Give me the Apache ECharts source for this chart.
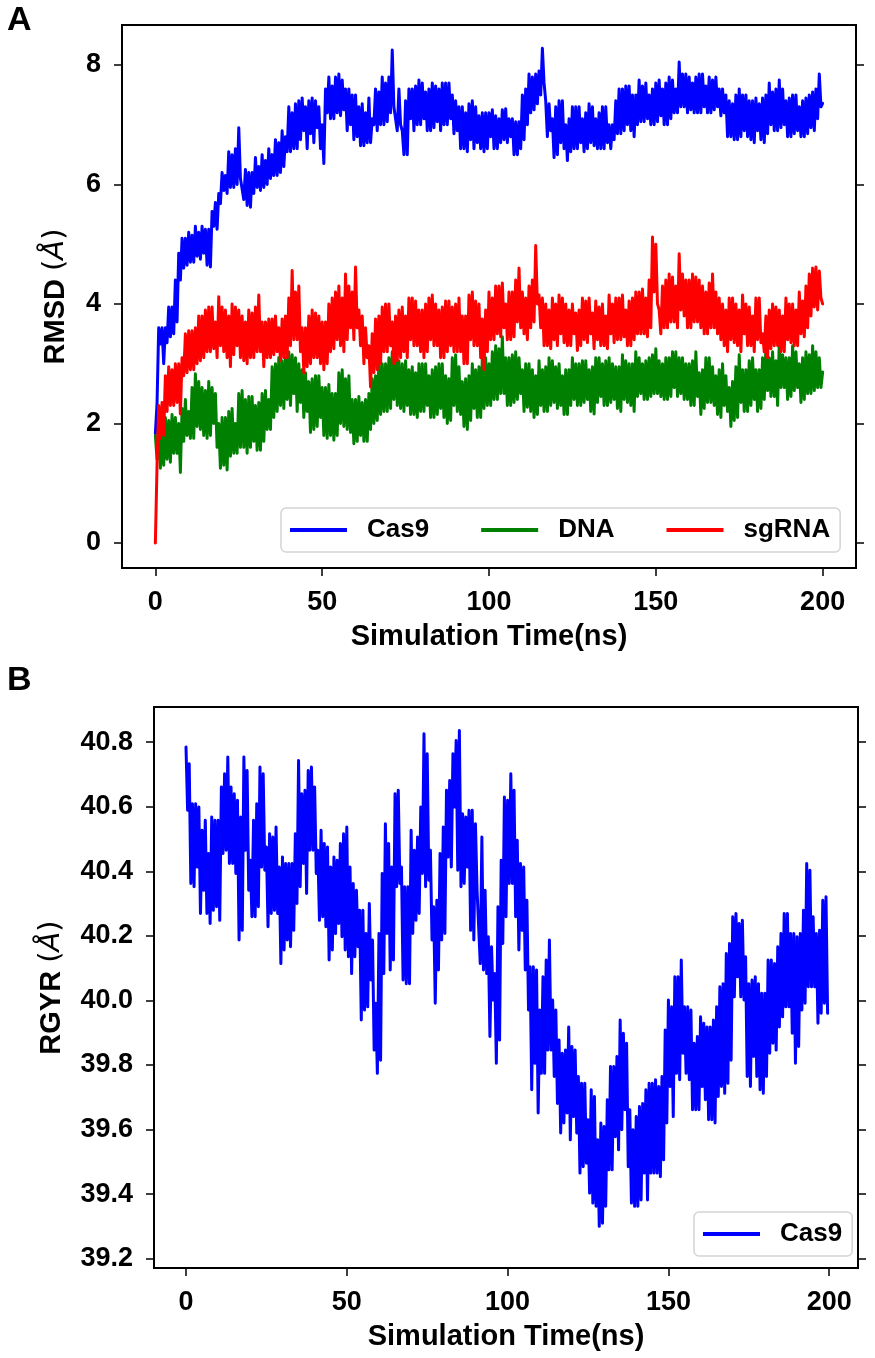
<!DOCTYPE html>
<html><head><meta charset="utf-8">
<script src="https://cdn.jsdelivr.net/npm/echarts@6/dist/echarts.min.js"></script>
<style>html,body{margin:0;padding:0;background:#fff}#c{width:875px;height:1358px}</style>
</head><body><div id="c"></div>
<script>
const rmsdTicksX = [0, 50, 100, 150, 200];
const rmsdTicksY = [0, 2, 4, 6, 8];
const rgyrTicksX = [0, 50, 100, 150, 200];
const rgyrTicksY = [39.2, 39.4, 39.6, 39.8, 40.0, 40.2, 40.4, 40.6, 40.8];
const rgyrStepNs = 0.5;

// RMSD: two readings per 1-ns bin
const cas9Rmsd = [1.83,3.33,3.0,3.6,3.45,3.95,3.7,4.4,4.6,5.1,
 4.7,5.15,4.8,5.2,4.85,5.25,4.62,5.3,5.25,5.68,
 5.9,6.15,5.95,6.5,6.0,6.95,6.1,6.25,5.62,6.2,
 5.95,6.3,5.95,6.4,6.1,6.5,6.15,6.7,6.3,6.8,
 6.55,7.2,6.6,7.4,6.9,7.3,6.85,7.45,6.95,7.3,
 6.35,7.2,7.1,7.65,7.2,7.85,7.25,7.6,7.0,7.5,
 6.8,7.3,6.65,7.2,6.7,7.1,6.9,7.55,7.0,7.7,
 7.2,8.25,7.3,7.6,6.9,6.5,7.1,7.6,7.0,7.75,
 7.1,7.55,6.9,7.7,7.05,7.6,7.0,7.7,7.1,7.5,
 6.9,7.3,6.6,7.2,6.75,7.4,6.7,7.15,6.55,7.2,
 6.8,7.25,6.6,7.1,6.75,7.27,6.8,7.1,6.5,7.05,
 6.75,7.6,7.2,7.8,7.35,7.9,8.28,7.4,6.9,6.45,
 7.3,6.7,7.4,6.4,7.1,6.6,7.3,6.7,7.1,6.6,
 7.35,6.65,7.1,6.6,7.3,6.7,7.0,6.75,7.4,6.85,
 7.6,7.0,7.65,6.8,7.5,7.05,7.65,7.1,7.5,7.0,
 7.7,7.15,7.6,7.0,7.8,7.2,7.6,8.05,7.3,7.85,
 7.25,7.7,7.2,7.85,7.3,7.65,7.2,7.75,7.3,7.6,
 7.2,7.5,6.8,7.35,6.75,7.6,6.9,7.5,6.75,7.4,
 6.9,7.35,6.7,7.5,7.0,7.55,6.9,7.75,7.0,7.4,
 6.8,7.5,6.9,7.3,6.8,7.45,6.95,7.55,7.1,7.85,
 7.36];
const cas9RmsdHalf = [2.33,3.6,3.6,3.35,3.95,3.5,4.4,4.85,5.1,4.65,
 5.2,4.7,5.3,4.75,5.3,4.65,5.25,5.55,5.7,5.85,
 6.2,5.85,6.55,5.95,6.6,6.1,5.75,5.65,6.2,5.85,
 6.45,5.9,6.5,6.0,6.6,6.15,6.75,6.2,6.9,6.55,
 7.3,6.6,7.35,6.75,7.45,6.6,7.4,6.7,7.4,6.6,
 7.0,7.6,7.8,7.1,7.8,7.15,7.75,6.9,7.6,6.75,
 7.5,6.65,7.35,6.7,7.45,7.0,7.6,7.0,7.8,7.05,
 7.8,7.3,6.9,7.0,6.5,7.4,7.6,6.9,7.65,7.0,
 7.7,6.9,7.6,6.95,7.65,6.9,7.7,7.0,7.7,6.85,
 7.4,6.6,7.3,6.55,7.35,6.6,7.3,6.6,7.2,6.6,
 7.2,6.6,7.15,6.7,7.25,6.7,7.1,6.5,7.05,6.6,
 7.5,7.0,7.85,7.25,7.85,7.5,7.7,6.8,7.35,7.1,
 6.5,7.4,6.6,7.0,6.55,7.3,6.6,7.3,6.55,7.2,
 6.7,7.3,6.6,7.2,6.6,7.3,6.6,7.0,6.85,7.6,
 6.9,7.65,6.9,7.5,7.0,7.75,7.05,7.7,7.0,7.6,
 7.05,7.75,7.0,7.7,7.1,7.75,7.2,7.3,7.85,7.2,
 7.8,7.2,7.8,7.2,7.85,7.2,7.8,7.25,7.8,7.15,
 7.6,6.8,7.4,6.75,7.5,6.8,7.5,6.8,7.4,6.7,
 7.45,6.75,7.45,6.85,7.7,6.9,7.6,6.95,7.6,6.8,
 7.45,6.85,7.5,6.8,7.4,6.85,7.5,6.9,7.6,7.3];

const dnaRmsd = [1.8,1.25,1.9,1.4,2.05,1.5,2.1,1.18,2.25,1.8,
 2.2,1.75,2.83,1.9,2.6,1.75,2.7,2.0,2.5,1.25,
 2.1,1.22,2.2,1.5,2.0,1.6,2.55,1.5,2.45,1.7,
 2.3,1.55,2.5,1.9,2.4,2.1,3.0,2.3,3.05,2.4,
 3.2,2.5,3.1,2.35,2.9,2.2,2.7,1.9,2.8,2.1,
 2.6,1.75,2.65,1.72,2.5,2.0,2.9,1.9,2.8,1.66,
 2.4,1.8,2.35,1.7,2.5,2.0,2.8,2.15,3.0,2.2,
 3.1,2.4,3.35,2.25,3.0,2.3,2.9,2.15,2.85,2.2,
 3.0,2.3,2.8,2.1,2.95,2.25,3.0,2.0,2.75,2.3,
 3.15,2.15,2.7,1.9,2.8,2.25,2.9,2.1,3.1,2.3,
 3.0,2.4,3.3,2.5,3.45,2.3,3.1,2.35,3.2,2.5,
 2.9,2.27,3.0,2.1,2.8,2.3,2.9,2.2,3.1,2.35,
 2.95,2.3,2.8,2.15,2.9,2.4,3.0,2.3,3.05,2.4,
 2.9,2.16,3.1,2.45,3.0,2.3,3.1,2.4,2.95,2.2,
 3.15,2.35,3.0,2.2,3.2,2.5,3.0,2.4,3.1,2.5,
 3.25,2.45,3.0,2.4,3.1,2.6,3.2,2.5,3.1,2.4,
 3.0,2.3,3.2,2.15,2.9,2.35,3.1,2.3,2.8,2.1,
 3.0,2.2,1.95,2.7,2.1,3.15,2.2,2.9,2.3,3.1,
 2.2,2.9,2.4,3.3,2.45,3.2,2.3,3.35,2.6,3.1,
 2.45,3.3,2.6,3.0,2.4,3.2,2.5,3.3,2.6,3.1,
 2.86];
const dnaRmsdHalf = [1.4,2.0,1.3,2.1,1.35,2.15,1.5,2.0,1.7,2.4,
 1.75,2.6,1.95,2.7,1.8,2.55,1.8,2.6,1.6,2.0,
 1.3,2.1,1.45,2.25,1.5,2.5,1.6,2.4,1.6,2.45,
 1.55,2.35,1.7,2.55,1.9,2.95,2.2,3.1,2.25,3.1,
 2.3,3.15,2.2,3.0,2.1,2.85,1.85,2.75,1.95,2.8,
 1.8,2.6,1.8,2.5,1.8,2.85,1.95,2.75,1.85,2.4,
 1.7,2.45,1.7,2.4,1.9,2.75,2.05,3.05,2.2,3.0,
 2.25,3.2,2.3,3.05,2.2,3.05,2.15,2.95,2.1,3.0,
 2.2,3.0,2.1,2.9,2.15,3.0,2.1,2.8,2.05,3.1,
 2.2,2.95,1.95,2.75,2.05,3.0,2.1,2.95,2.25,3.1,
 2.3,3.2,2.4,3.25,2.5,3.1,2.3,3.15,2.4,3.1,
 2.2,3.0,2.2,2.9,2.15,3.05,2.2,2.95,2.3,3.05,
 2.25,3.0,2.15,2.9,2.3,3.1,2.3,3.0,2.35,3.05,
 2.2,2.95,2.35,3.1,2.3,3.05,2.35,3.0,2.25,2.95,
 2.4,3.05,2.3,3.0,2.45,3.1,2.4,3.05,2.45,3.15,
 2.5,3.05,2.4,3.1,2.45,3.2,2.45,3.1,2.4,3.0,
 2.3,3.05,2.45,2.85,2.25,3.1,2.35,2.95,2.15,2.9,
 2.3,2.8,2.6,2.05,2.95,2.35,2.9,2.2,3.05,2.4,
 2.9,2.25,3.1,2.55,3.1,2.45,3.05,2.6,3.15,2.4,
 3.1,2.55,3.2,2.35,3.1,2.5,3.15,2.55,3.2,2.6];

const sgrnaRmsd = [0,1.75,2.35,2.2,2.95,2.3,3.0,2.16,3.1,2.85,
 3.55,2.9,3.6,3.05,3.8,3.2,3.95,3.25,3.7,4.12,
 3.2,3.9,2.95,4.0,3.3,3.9,3.05,3.7,3.1,3.85,
 3.2,4.15,2.95,3.7,3.1,3.75,3.2,3.6,3.1,3.8,
 3.3,4.56,3.4,4.3,2.85,3.6,3.0,3.9,3.1,3.8,
 2.9,3.7,3.2,4.1,3.4,4.3,3.2,4.5,3.6,4.2,
 4.62,3.3,3.8,3.1,2.61,3.5,2.9,3.8,3.2,4.0,
 3.3,3.7,3.05,3.9,3.2,3.8,3.4,4.1,3.3,3.9,
 3.1,4.0,3.4,4.15,3.3,3.9,3.1,4.05,3.3,3.95,
 3.2,4.1,3.0,3.8,3.4,4.2,3.3,4.0,2.9,3.9,
 3.4,4.1,3.5,4.3,3.6,4.0,3.4,4.2,3.7,4.6,
 3.5,4.1,3.6,4.4,4.98,3.6,4.1,3.3,3.9,3.4,
 4.0,3.5,4.1,3.3,3.9,3.5,3.22,3.9,3.4,4.05,
 3.5,3.85,3.4,3.95,3.3,3.8,3.5,4.0,3.4,4.1,
 3.45,3.9,3.3,4.1,3.5,4.2,3.5,4.1,3.6,5.12,
 5.0,3.9,4.3,3.6,4.5,3.7,4.3,4.84,3.8,4.4,
 3.6,4.5,3.7,4.4,3.5,4.2,3.6,4.5,3.5,4.1,
 3.3,3.9,3.4,4.1,3.3,3.9,3.5,4.0,3.3,3.8,
 3.4,4.1,3.5,3.1,3.9,3.3,3.95,3.2,3.8,3.4,
 4.0,3.3,3.9,3.5,4.05,3.6,4.5,3.95,4.62,4.1,
 4.0];
const sgrnaRmsdHalf = [1.3,2.3,1.8,2.8,2.3,2.9,2.35,3.0,2.8,3.5,
 2.9,3.55,3.0,3.8,3.1,3.9,3.2,3.95,3.1,3.3,
 3.95,3.1,3.8,3.15,3.95,3.1,3.8,3.0,3.9,3.1,
 3.95,3.2,3.7,3.1,3.75,3.15,3.8,3.05,3.75,3.1,
 4.1,3.4,4.2,3.2,3.6,2.95,3.8,3.1,3.85,3.0,
 3.7,3.0,4.0,3.25,4.2,3.3,4.1,3.4,4.3,3.4,
 3.6,3.9,3.0,3.6,3.3,2.85,3.75,3.0,3.95,3.2,
 4.0,3.0,3.8,3.1,3.95,3.1,4.1,3.3,4.05,3.2,
 3.9,3.2,4.1,3.3,4.0,3.1,3.95,3.2,4.05,3.2,
 4.0,3.2,3.8,3.0,4.15,3.3,4.05,3.1,3.75,3.2,
 4.2,3.4,4.3,3.45,4.35,3.4,4.2,3.45,4.4,3.6,
 4.2,3.4,4.3,3.7,4.0,4.15,3.3,4.0,3.25,4.1,
 3.3,4.15,3.35,4.0,3.3,4.0,3.85,3.3,4.1,3.35,
 4.1,3.25,4.05,3.3,4.0,3.25,4.15,3.35,4.1,3.4,
 4.15,3.3,4.05,3.4,4.2,3.5,4.25,3.45,4.4,4.2,
 4.0,3.5,3.6,4.4,3.7,4.45,3.6,3.9,4.5,3.6,
 4.4,3.7,4.45,3.6,4.3,3.5,4.35,3.6,4.2,3.4,
 4.0,3.2,4.1,3.35,4.0,3.2,4.15,3.3,3.95,3.2,
 4.1,3.35,3.2,3.8,3.25,4.0,3.3,3.9,3.2,4.1,
 3.35,4.0,3.3,4.2,3.45,4.3,3.8,4.6,3.9,4.55];

// RGYR samples every 0.5 ns (0..199.5)
const cas9Rgyr = [
 40.785,40.589, 40.733,40.362, 40.609,40.352, 40.609,40.413, 40.599,40.269,
 40.527,40.341, 40.558,40.269, 40.455,40.238, 40.568,40.279, 40.558,40.290,
 40.558,40.248, 40.661,40.455, 40.702,40.465, 40.754,40.424, 40.661,40.424,
 40.640,40.393, 40.620,40.187, 40.568,40.217, 40.754,40.465, 40.712,40.341,
 40.434,40.259, 40.558,40.259, 40.609,40.290, 40.723,40.413, 40.702,40.403,
 40.475,40.228, 40.516,40.269, 40.506,40.279, 40.537,40.269, 40.413,40.114,
 40.444,40.156, 40.424,40.187, 40.424,40.166, 40.424,40.217, 40.516,40.300,
 40.743,40.352, 40.640,40.424, 40.651,40.331, 40.712,40.465, 40.723,40.465,
 40.661,40.393, 40.465,40.248, 40.527,40.259, 40.486,40.228, 40.475,40.125,
 40.413,40.156, 40.444,40.207, 40.434,40.238, 40.486,40.197, 40.516,40.156,
 40.537,40.135, 40.413,40.083, 40.362,40.135, 40.341,40.166, 40.279,39.939,
 40.279,39.970, 40.207,39.980, 40.300,40.063, 40.187,39.846, 39.991,39.774,
 40.207,39.815, 40.393,40.083, 40.547,40.207, 40.486,40.094, 40.413,40.125,
 40.640,40.352, 40.651,40.362, 40.413,40.063, 40.352,40.052, 40.352,40.052,
 40.527,40.207, 40.465,40.248, 40.506,40.269, 40.599,40.393, 40.826,40.352,
 40.764,40.372, 40.465,40.187, 40.290,39.991, 40.310,40.094, 40.455,40.187,
 40.537,40.207, 40.651,40.444, 40.681,40.413, 40.764,40.599, 40.805,40.403,
 40.836,40.352, 40.578,40.362, 40.568,40.413, 40.589,40.217, 40.589,40.187,
 40.547,40.341, 40.341,40.114, 40.506,40.094, 40.341,40.083, 40.197,39.888,
 40.166,40.001, 40.083,39.805, 40.290,39.877, 40.434,40.176, 40.630,40.259,
 40.620,40.362, 40.702,40.362, 40.651,40.259, 40.496,40.156, 40.424,40.217,
 40.413,40.094, 40.310,39.970, 40.104,39.723, 40.104,39.805, 40.094,39.651,
 39.970,39.774, 40.073,39.774, 40.125,39.846, 40.187,39.846, 40.001,39.764,
 39.970,39.681, 39.877,39.589, 39.836,39.620, 39.846,39.651, 39.918,39.568,
 39.857,39.640, 39.846,39.589, 39.764,39.465, 39.743,39.485, 39.743,39.496,
 39.630,39.403, 39.723,39.372, 39.702,39.362, 39.568,39.300, 39.620,39.310,
 39.609,39.362, 39.692,39.475, 39.795,39.475, 39.795,39.578, 39.826,39.537,
 39.939,39.599, 39.898,39.661, 39.867,39.485, 39.661,39.372, 39.599,39.362,
 39.640,39.362, 39.671,39.382, 39.681,39.465, 39.723,39.382, 39.743,39.465,
 39.743,39.465, 39.754,39.465, 39.733,39.454, 39.764,39.506, 39.908,39.620,
 40.001,39.733, 39.980,39.640, 40.073,39.774, 40.073,39.754, 40.125,39.836,
 39.980,39.774, 39.980,39.754, 39.970,39.661, 39.867,39.661, 39.888,39.661,
 39.949,39.733, 39.929,39.692, 39.918,39.630, 39.918,39.630, 39.939,39.620,
 39.980,39.702, 40.042,39.733, 40.052,39.712, 40.145,39.743, 40.176,39.815,
 40.259,40.011, 40.269,40.073, 40.238,40.011, 40.248,40.001, 40.135,39.764,
 40.052,39.733, 40.063,39.826, 40.073,39.764, 40.052,39.723, 40.022,39.712,
 40.022,39.764, 40.125,39.836, 40.125,39.867, 40.114,39.846, 40.166,39.918,
 40.207,39.949, 40.269,39.980, 40.269,39.980, 40.207,39.898, 40.207,39.805,
 40.197,39.857, 40.207,39.970, 40.279,39.991, 40.424,40.042, 40.403,40.042,
 40.259,40.042, 40.207,39.929, 40.217,39.960, 40.310,39.991, 40.321,39.960];

const FONT = "'Liberation Sans', Arial, sans-serif";
// two readings per 1-ns bin: the upper one plotted at k, the lower at k+0.5 (first bin kept in read order)
const mergeBins = (first, second) => {
  const out = [];
  first.forEach((v, i) => {
    if (i < second.length) {
      const w = second[i];
      if (i === 0) { out.push([i, v], [i + 0.5, w]); }
      else { out.push([i, Math.max(v, w)], [i + 0.5, Math.min(v, w)]); }
    } else {
      out.push([i, v]);
    }
  });
  return out;
};
const toPairs = (arr, step) => arr.map((v, i) => [i * step, v]);

const tickLabelStyle = { color: '#000', fontSize: 27, fontWeight: 'bold', fontFamily: FONT };
const nameStyleBase = { color: '#000', fontSize: 29, fontWeight: 'bold', fontFamily: FONT };
const tickDef = ticks => ({ show: true, length: 8, lineStyle: { color: '#000', width: 1.5 }, customValues: ticks });

function xAxisDef(gridIndex, min, max, ticks) {
  return {
    type: 'value', gridIndex, min, max, position: 'bottom',
    splitLine: { show: false }, axisLine: { show: false, onZero: false },
    axisTick: tickDef(ticks),
    axisLabel: Object.assign({ margin: 21, customValues: ticks }, tickLabelStyle),
    name: 'Simulation Time(ns)', nameLocation: 'middle', nameGap: 54,
    nameTextStyle: nameStyleBase
  };
}
function yAxisDef(gridIndex, min, max, ticks, name, gap, fmt) {
  return {
    type: 'value', gridIndex, min, max, position: 'left',
    splitLine: { show: false }, axisLine: { show: false, onZero: false },
    axisTick: tickDef(ticks),
    axisLabel: Object.assign({ margin: 21, customValues: ticks, formatter: fmt }, tickLabelStyle),
    name: name, nameLocation: 'middle', nameRotate: 90, nameGap: gap,
    nameTextStyle: {
      rich: {
        b: nameStyleBase,
        n: { color: '#000', fontSize: 29, fontWeight: 'normal', fontFamily: "'DejaVu Sans', sans-serif" },
        i: { color: '#000', fontSize: 29, fontWeight: 'normal', fontStyle: 'italic', fontFamily: "'DejaVu Sans', sans-serif" }
      }
    }
  };
}
function yRightDef(gridIndex, min, max, ticks) {
  return {
    type: 'value', gridIndex, min, max, position: 'right',
    splitLine: { show: false }, axisLine: { show: false, onZero: false },
    axisTick: tickDef(ticks),
    axisLabel: { show: false }
  };
}
function lineSeries(name, data, color, xi, yi) {
  return {
    type: 'line', name, data, xAxisIndex: xi, yAxisIndex: yi,
    showSymbol: false, symbol: 'none', animation: false, sampling: null,
    lineStyle: { color, width: 3, join: 'round', cap: 'round' },
    itemStyle: { color }
  };
}
const legendBase = {
  orient: 'horizontal', icon: 'rect', itemWidth: 57, itemHeight: 4, itemGap: 52,
  selectedMode: false, backgroundColor: '#fff', borderColor: '#d4d4d4', borderWidth: 1.5, borderRadius: 5,
  padding: [9, 10, 9, 9],
  textStyle: { color: '#000', fontSize: 26, fontWeight: 'bold', fontFamily: FONT, padding: [0, 0, 0, 15] }
};

const chart = echarts.init(document.getElementById('c'), null, { renderer: 'canvas' });
chart.setOption({
  backgroundColor: '#fff',
  animation: false,
  grid: [
    { left: 122, top: 25, width: 734, height: 543, show: true, borderColor: '#000', borderWidth: 2, backgroundColor: 'transparent' },
    { left: 154, top: 707, width: 704, height: 561, show: true, borderColor: '#000', borderWidth: 2, backgroundColor: 'transparent' }
  ],
  xAxis: [
    xAxisDef(0, -10, 210, rmsdTicksX),
    xAxisDef(1, -9.95, 208.95, rgyrTicksX)
  ],
  yAxis: [
    yAxisDef(0, -0.42, 8.67, rmsdTicksY, '{b|RMSD }{n|(}{i|Å}{n|)}', 52, v => String(v)),
    yRightDef(0, -0.42, 8.67, rmsdTicksY),
    yAxisDef(1, 39.171, 40.909, rgyrTicksY, '{b|RGYR }{n|(}{i|Å}{n|)}', 88, v => Number(v).toFixed(1)),
    yRightDef(1, 39.171, 40.909, rgyrTicksY)
  ],
  legend: [
    Object.assign({ data: ['Cas9', 'DNA', 'sgRNA'], left: 281, top: 508 }, legendBase),
    Object.assign({ data: ['Cas9'], left: 694, top: 1212 }, legendBase)
  ],
  series: [
    lineSeries('Cas9', mergeBins(cas9Rmsd, cas9RmsdHalf), '#0000ff', 0, 0),
    lineSeries('DNA', mergeBins(dnaRmsd, dnaRmsdHalf), '#008000', 0, 0),
    lineSeries('sgRNA', mergeBins(sgrnaRmsd, sgrnaRmsdHalf), '#ff0000', 0, 0),
    lineSeries('Cas9', toPairs(cas9Rgyr, rgyrStepNs), '#0000ff', 1, 2)
  ],
  graphic: [
    { type: 'text', left: 7, top: 4, style: { text: 'A', font: "bold 34px 'Liberation Sans', Arial, sans-serif", fill: '#000' } },
    { type: 'text', left: 7, top: 664, style: { text: 'B', font: "bold 34px 'Liberation Sans', Arial, sans-serif", fill: '#000' } }
  ]
});
</script>
</body></html>
